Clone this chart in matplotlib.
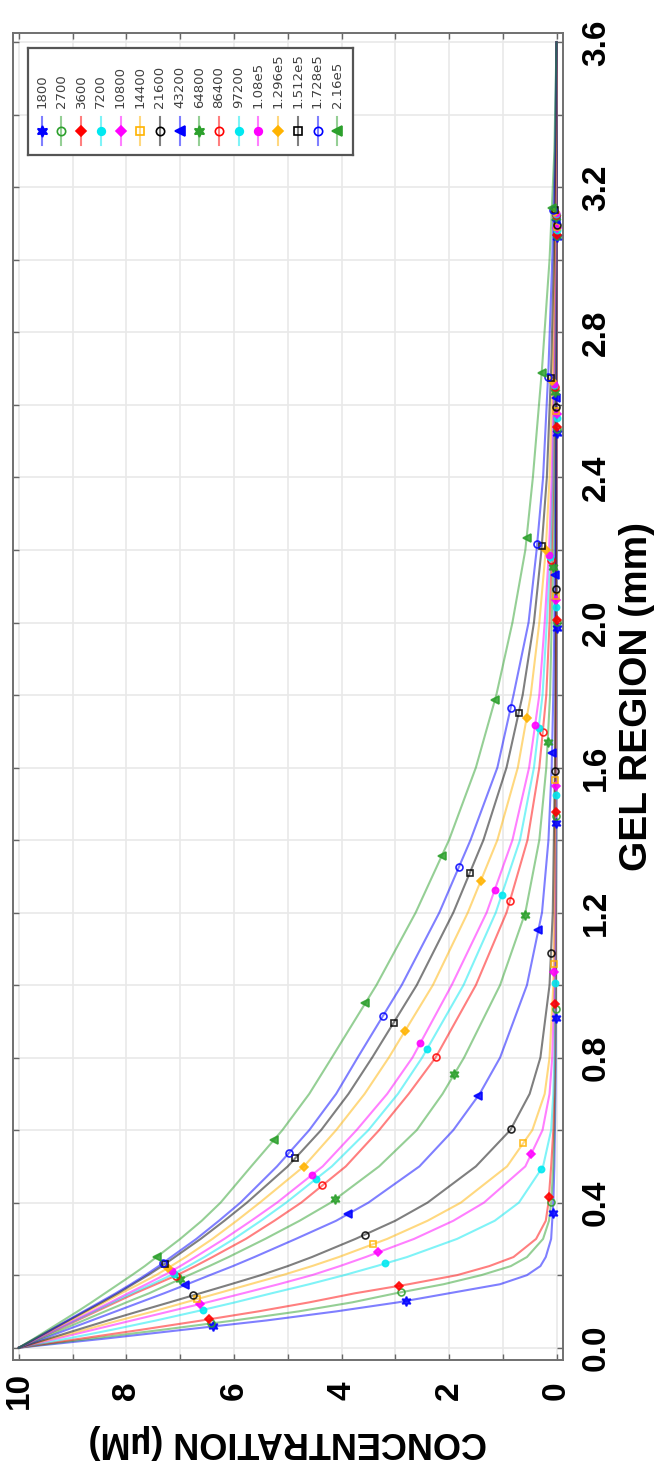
import numpy as np
import matplotlib
matplotlib.use("Agg")
import matplotlib.pyplot as plt

plt.rcParams['font.family'] = ['Liberation Sans', 'DejaVu Sans']

# time labels (s) of the 16 profiles
time_labels = ['1800', '2700', '3600', '7200', '10800', '14400', '21600', '43200',
               '64800', '86400', '97200', '1.08e5', '1.296e5', '1.512e5', '1.728e5', '2.16e5']

# gel depth (mm) where the profiles were read
gel_mm = [0, 0.025, 0.05, 0.075, 0.1, 0.125, 0.15, 0.175, 0.2, 0.225, 0.25, 0.3, 0.35,
          0.4, 0.5, 0.6, 0.7, 0.8, 1.0, 1.2, 1.4, 1.6, 1.8, 2.0, 2.2, 2.4, 2.7, 3.0,
          3.3, 3.6]

# concentration (uM) per profile
c1800 = [10, 8.4, 6.9, 5.4, 4.1, 2.95, 2.0, 1.05, 0.55, 0.3, 0.2, 0.1, 0.08, 0.06,
         0.04, 0.03, 0.02, 0.015, 0.01, 0.01, 0.005, 0.005, 0, 0, 0, 0, 0, 0, 0, 0]
c2700 = [10, 8.65, 7.3, 6.0, 4.8, 3.8, 2.99, 2.1, 1.4, 0.85, 0.55, 0.25, 0.14, 0.1,
         0.06, 0.04, 0.03, 0.02, 0.01, 0.01, 0.005, 0.005, 0, 0, 0, 0, 0, 0, 0, 0]
c3600 = [10, 8.85, 7.7, 6.6, 5.55, 4.6, 3.75, 2.75, 1.85, 1.25, 0.8, 0.38, 0.2, 0.15,
         0.1, 0.06, 0.04, 0.03, 0.02, 0.01, 0.01, 0.005, 0.005, 0, 0, 0, 0, 0, 0, 0]
c7200 = [10, 9.1, 8.25, 7.45, 6.7, 5.98, 5.3, 4.6, 3.95, 3.35, 2.78, 1.85, 1.15, 0.7,
         0.25, 0.1, 0.06, 0.04, 0.03, 0.02, 0.01, 0.01, 0.005, 0.005, 0, 0, 0, 0, 0, 0]
c10800 = [10, 9.3, 8.6, 7.9, 7.2, 6.5, 5.83, 5.17, 4.55, 4.03, 3.55, 2.65, 1.92, 1.35,
          0.58, 0.26, 0.13, 0.08, 0.04, 0.03, 0.02, 0.015, 0.01, 0.01, 0.005, 0, 0, 0,
          0, 0]
c14400 = [10, 9.38, 8.76, 8.14, 7.5, 6.9, 6.3, 5.7, 5.1, 4.55, 4.05, 3.15, 2.4, 1.78,
          0.92, 0.45, 0.22, 0.13, 0.06, 0.04, 0.03, 0.02, 0.015, 0.01, 0.01, 0.005, 0,
          0, 0, 0]
c21600 = [10, 9.45, 8.9, 8.35, 7.78, 7.2, 6.63, 6.06, 5.5, 5.0, 4.55, 3.74, 3.0, 2.4,
          1.5, 0.86, 0.5, 0.3, 0.13, 0.07, 0.05, 0.03, 0.02, 0.015, 0.01, 0.01, 0.005,
          0, 0, 0]
c43200 = [10, 9.55, 9.1, 8.65, 8.2, 7.75, 7.3, 6.87, 6.45, 6.02, 5.62, 4.85, 4.1, 3.5,
          2.55, 1.92, 1.43, 1.05, 0.55, 0.27, 0.15, 0.09, 0.06, 0.04, 0.03, 0.02, 0.01,
          0.005, 0, 0]
c64800 = [10, 9.6, 9.2, 8.8, 8.4, 8.0, 7.58, 7.21, 6.84, 6.46, 6.1, 5.42, 4.78, 4.2,
          3.3, 2.6, 2.12, 1.72, 1.05, 0.58, 0.32, 0.19, 0.12, 0.09, 0.06, 0.04, 0.02,
          0.01, 0.005, 0]
c86400 = [10, 9.64, 9.28, 8.92, 8.56, 8.2, 7.84, 7.45, 7.06, 6.72, 6.4, 5.78, 5.25,
          4.75, 3.92, 3.3, 2.75, 2.25, 1.5, 0.93, 0.54, 0.32, 0.19, 0.13, 0.09, 0.06,
          0.03, 0.02, 0.01, 0]
c97200 = [10, 9.65, 9.3, 8.95, 8.6, 8.25, 7.9, 7.53, 7.17, 6.85, 6.55, 6.0, 5.5, 5.03,
          4.18, 3.5, 2.95, 2.5, 1.73, 1.13, 0.68, 0.42, 0.26, 0.18, 0.11, 0.07, 0.04,
          0.02, 0.01, 0]
c108000 = [10, 9.66, 9.32, 8.98, 8.64, 8.3, 7.97, 7.63, 7.3, 7.0, 6.72, 6.18, 5.68,
           5.2, 4.35, 3.72, 3.15, 2.68, 1.95, 1.3, 0.82, 0.51, 0.32, 0.22, 0.14, 0.09,
           0.05, 0.02, 0.01, 0]
c129600 = [10, 9.69, 9.37, 9.05, 8.73, 8.41, 8.1, 7.77, 7.45, 7.17, 6.9, 6.4, 5.95,
           5.52, 4.7, 4.1, 3.57, 3.12, 2.3, 1.65, 1.1, 0.72, 0.48, 0.32, 0.2, 0.13,
           0.07, 0.03, 0.01, 0]
c151200 = [10, 9.7, 9.39, 9.08, 8.77, 8.46, 8.16, 7.88, 7.6, 7.34, 7.1, 6.62, 6.18,
           5.76, 5.0, 4.38, 3.87, 3.43, 2.6, 1.92, 1.36, 0.93, 0.63, 0.42, 0.28, 0.18,
           0.1, 0.05, 0.02, 0]
c172800 = [10, 9.7, 9.4, 9.1, 8.8, 8.5, 8.2, 7.92, 7.65, 7.4, 7.17, 6.7, 6.28, 5.88,
           5.2, 4.6, 4.1, 3.7, 2.88, 2.18, 1.6, 1.1, 0.8, 0.52, 0.37, 0.25, 0.15, 0.08,
           0.03, 0]
c216000 = [10, 9.72, 9.45, 9.18, 8.91, 8.65, 8.4, 8.15, 7.9, 7.66, 7.44, 7.0, 6.6,
           6.25, 5.68, 5.1, 4.6, 4.18, 3.35, 2.62, 2.0, 1.5, 1.12, 0.82, 0.58, 0.44,
           0.27, 0.13, 0.04, 0]

profiles = [c1800, c2700, c3600, c7200, c10800, c14400, c21600, c43200,
            c64800, c86400, c97200, c108000, c129600, c151200, c172800, c216000]

conc_ticks = [0, 2, 4, 6, 8, 10]
conc_tick_labels = ['0', '2', '4', '6', '8', '10']
gel_ticks = [0, 0.4, 0.8, 1.2, 1.6, 2.0, 2.4, 2.8, 3.2, 3.6]
gel_tick_labels = ['0.0', '0.4', '0.8', '1.2', '1.6', '2.0', '2.4', '2.8', '3.2', '3.6']

blue, green, red, cyan = '#0000ff', '#2ca02c', '#ff0000', '#00e8f0'
mag, yel, blk = '#ff00ff', '#ffb300', '#000000'
colors = [blue, green, red, cyan, mag, yel, blk, blue,
          green, red, cyan, mag, yel, blk, blue, green]
star6 = (6, 1, 0)
marks = [star6, 'o', 'D', 'o', 'D', 's', 'o', '<',
         star6, 'o', 'o', 'o', 'D', 's', 'o', '<']
filled = [True, False, True, True, True, False, False, True,
          True, False, True, True, True, False, False, True]
msize = [7, 5, 4.5, 4.5, 4.5, 5, 5, 5.5, 7, 5, 4.5, 4.5, 4.5, 5, 5, 5.5]


def arc_markers(ax, x, y, nseg=9):
    # markers spaced evenly along the drawn line, like markevery in display space
    pts = ax.transData.transform(np.column_stack([x, y]))
    d = np.r_[0, np.cumsum(np.hypot(*np.diff(pts, axis=0).T))]
    s = d[-1] * np.arange(1, nseg) / nseg
    p = np.column_stack([np.interp(s, d, pts[:, 0]), np.interp(s, d, pts[:, 1])])
    return ax.transData.inverted().transform(p)


W, H = 666, 1467
fig = plt.figure(figsize=(W / 100, H / 100), dpi=100)
ax = fig.add_axes([12.7 / W, (H - 1360) / H, 550 / W, 1326.7 / H])
ax.set_xlim(10.117, -0.115)
ax.set_ylim(-0.034, 3.625)

for i, c in enumerate(profiles):
    ax.plot(c, gel_mm, color=colors[i], lw=1.5, alpha=0.5, zorder=2)
    mk = arc_markers(ax, c, gel_mm)
    ax.plot(mk[:, 0], mk[:, 1], ls='none', marker=marks[i], ms=msize[i],
            mec=colors[i], mfc=colors[i] if filled[i] else 'none', mew=1.2,
            alpha=0.85, zorder=3)

ax.set_xticks(conc_ticks)
ax.set_xticklabels(conc_tick_labels, rotation=90, fontsize=24, fontweight='bold',
                   va='center', ha='center')
ax.set_xticks(range(0, 11), minor=True)
ax.set_yticks(gel_ticks)
ax.set_yticklabels(gel_tick_labels, rotation=90, fontsize=24, fontweight='bold',
                   va='center')
ax.set_yticks(np.arange(0, 3.61, 0.2), minor=True)
ax.tick_params(which='both', direction='in', top=True, bottom=True, left=True,
               right=True, labelleft=False, labelright=True, length=4,
               color='#666666', width=1)
ax.tick_params(axis='x', which='major', pad=22)
ax.tick_params(axis='y', which='major', pad=13)
ax.grid(which='both', color='#e9e9e9', lw=1.2, zorder=0)
ax.set_axisbelow(True)
for sp in ax.spines.values():
    sp.set_color('#707070')
    sp.set_linewidth(1.4)

ax.set_xlabel('CONCENTRATION (µM)', fontsize=26, fontweight='bold', rotation=180,
              va='center', ha='center')
ax.xaxis.set_label_coords(0.5, -(1442 - 1360) / 1326.7)
ax.yaxis.set_label_position('right')
ax.set_ylabel('GEL REGION (mm)', fontsize=28, fontweight='bold', rotation=90,
              va='center', ha='center')
ax.yaxis.set_label_coords((637 - 12.7) / 550, 0.5)

# legend, drawn by hand because the whole chart is turned on its side
lax = fig.add_axes([28 / W, 1 - 155 / H, 325 / W, 107 / H], zorder=5)
lax.set_xlim(0, 325)
lax.set_ylim(107, 0)
lax.set_xticks([])
lax.set_yticks([])
for sp in lax.spines.values():
    sp.set_color('#555555')
    sp.set_linewidth(1.6)
for i, lab in enumerate(time_labels):
    x = 13.7 + 19.7 * i
    lax.plot([x, x], [69, 97], color=colors[i], lw=1.5, alpha=0.5)
    lax.plot([x], [83], ls='none', marker=marks[i], ms=msize[i] + 1, mec=colors[i],
             mfc=colors[i] if filled[i] else 'none', mew=1.2)
    lax.text(x, 60, lab, rotation=90, ha='center', va='bottom', fontsize=9.5,
             color='#404040', family='DejaVu Sans')

fig.savefig('out.png', dpi=100)
